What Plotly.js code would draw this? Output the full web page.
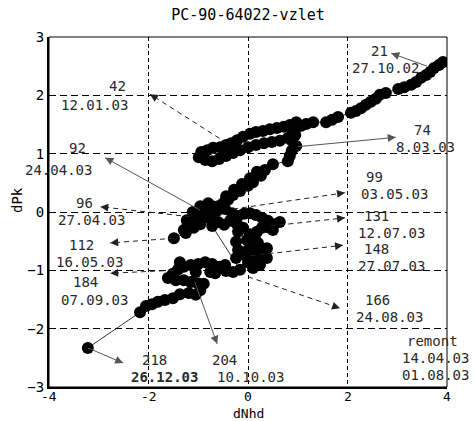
<!DOCTYPE html>
<html>
<head>
<meta charset="utf-8">
<script src="https://cdn.plot.ly/plotly-3.0.1.min.js"></script>
<style>html,body{margin:0;padding:0;background:#fff;}#chart{width:475px;height:421px;}</style>
</head>
<body>
<div id="chart"></div>
<script>
// trajectory of dNhd (x) vs dPk (y), in time order
const dNhd = [
  3.92,3.84,3.74,3.66,3.58,3.48,3.38,3.28,3.14,3.02,2.77,2.65,2.57,2.47,2.37,2.27,2.17,2.07,1.81,1.69,1.57,1.31,1.17,1.07,
  0.97,0.84,0.72,0.58,0.44,0.30,0.16,0.04,-0.10,-0.22,-0.34,-0.44,-0.56,-0.70,-0.82,-0.94,
  -0.99,
  -0.86,-0.72,-0.58,-0.44,-0.30,-0.16,0.00,0.16,0.32,0.48,0.64,0.80,0.90,1.03,
  0.95,0.88,0.97,0.88,0.84,0.80,0.50,
  0.34,0.18,0.26,0.10,0.04,0.00,-0.12,-0.16,-0.28,-0.30,-0.44,-0.40,-0.50,-0.60,
  -0.72,-0.80,-0.84,-0.96,-0.96,-1.11,-1.05,-1.23,-1.15,-1.21,-1.29,-1.49,-1.25,-1.09,-0.96,-0.86,-0.74,-0.62,-0.46,
  -0.32,-0.20,-0.08,0.04,0.16,0.28,0.40,0.64,0.52,0.50,0.40,0.28,0.18,0.14,0.20,0.38,0.24,0.20,0.38,0.14,0.24,0.10,
  0.00,-0.04,-0.24,-0.20,0.00,0.08,-0.24,-0.02,-0.20,0.04,-0.10,-0.22,-0.36,-0.48,-0.60,-0.72,
  -0.16,-0.30,-0.44,-0.46,-0.58,-0.66,-0.72,-0.76,-0.86,-1.00,-1.05,-1.15,-1.29,-1.37,-1.41,-1.51,-1.61,
  -1.45,-1.29,-1.15,-1.01,-0.89,-0.96,-1.05,-1.19,-1.37,-1.51,-1.67,-1.81,-1.93,-2.05,-2.17,-3.22];
const dPk = [
  2.57,2.52,2.47,2.40,2.35,2.30,2.23,2.18,2.14,2.11,2.04,2.01,1.94,1.89,1.84,1.78,1.73,1.70,1.63,1.58,1.54,1.54,1.51,1.48,
  1.54,1.49,1.46,1.44,1.42,1.39,1.37,1.34,1.29,1.23,1.18,1.15,1.11,1.10,1.06,1.03,
  0.94,
  0.89,0.87,0.91,0.96,1.01,1.06,1.11,1.15,1.18,1.20,1.22,1.27,1.37,1.48,
  1.32,1.22,1.13,1.05,0.96,0.87,0.82,
  0.72,0.69,0.62,0.51,0.58,0.45,0.48,0.36,0.38,0.29,0.27,0.21,0.15,0.10,
  0.10,0.15,0.05,0.10,0.00,0.00,-0.07,-0.14,-0.15,-0.24,-0.31,-0.45,-0.36,-0.27,-0.21,-0.10,-0.05,0.02,0.05,
  -0.02,-0.07,-0.03,-0.02,-0.05,-0.10,-0.15,-0.17,-0.21,-0.31,-0.26,-0.27,-0.34,-0.45,-0.53,-0.62,-0.62,-0.72,-0.79,-0.82,-0.91,-0.96,
  -0.86,-0.75,-0.79,-0.65,-0.65,-0.55,-0.51,-0.48,-0.34,-0.38,-0.27,-0.21,-0.15,-0.22,-0.17,-0.24,
  -0.99,-1.03,-1.01,-0.91,-0.94,-1.05,-0.89,-1.03,-0.86,-0.89,-1.03,-0.91,-0.94,-0.86,-0.99,-1.06,-1.13,
  -1.17,-1.17,-1.20,-1.22,-1.23,-1.34,-1.42,-1.39,-1.41,-1.48,-1.51,-1.54,-1.58,-1.61,-1.72,-2.33];

// x axis tick labels
const xTickVals = [-4, -2, 0, 2, 4];
const xTickText = ['-4', '-2', '0', '2', '4'];

// arrows: from a point of the trajectory (fromX, fromY) to its label (toX, toY)
const arrowNames = ['21','42','74','92','96','99','112','131','148','166','184','204','218'];
const arrowFromX = [3.60, -0.42, 1.00, -0.96, -1.17, -0.30, -1.49, 0.45, 0.05, 0.00, -1.51, -1.07, -3.22];
const arrowFromY = [2.50, 1.18, 1.12, 0.03, -0.08, 0.05, -0.45, -0.24, -0.75, -1.11, -1.00, -1.20, -2.33];
const arrowToX = [2.88, -1.97, 2.97, -2.87, -2.97, 1.95, -2.77, 1.95, 1.91, 1.85, -2.77, -0.62, -2.51];
const arrowToY = [2.72, 2.02, 1.28, 0.93, 0.09, 0.33, -0.53, -0.10, -0.57, -1.65, -1.05, -2.26, -2.59];
const arrowDashed = [false, true, false, false, true, true, true, true, true, true, true, false, false];

// text labels (point number / date)
const labelTexts = ['21','27.10.02','42','12.01.03','92','24.04.03','96','27.04.03','112','16.05.03',
  '184','07.09.03','218','<b>26.12.03</b>','204','10.10.03','74','8.03.03','99','03.05.03',
  '131','12.07.03','148','27.07.03','166','24.08.03','remont','14.04.03','01.08.03'];
const labelX = [2.65,2.77,-2.63,-3.08,-3.42,-3.80,-3.28,-3.14,-3.34,-3.18,
  -3.26,-3.08,-1.87,-1.67,-0.48,0.06,3.50,3.56,2.55,2.95,
  2.59,2.89,2.59,2.89,2.61,2.85,3.70,3.76,3.76];
const labelY = [2.76,2.47,2.16,1.84,1.10,0.72,0.15,-0.14,-0.57,-0.86,
  -1.20,-1.51,-2.54,-2.83,-2.54,-2.83,1.40,1.11,0.60,0.31,
  -0.07,-0.36,-0.63,-0.93,-1.51,-1.80,-2.21,-2.50,-2.79];

const W = 475, H = 421;
const M = {l: 49, r: 28, t: 37, b: 34};
const xRange = [-4, 4], yRange = [-3, 3];
const PW = W - M.l - M.r, PH = H - M.t - M.b;
const sx = PW / (xRange[1] - xRange[0]);
const sy = PH / (yRange[1] - yRange[0]);
const FONT = 'DejaVu Sans Mono';

const shapes = [];
const annotations = [];
for (let i = 0; i < arrowNames.length; i++) {
  const col = arrowDashed[i] ? '#222' : '#555';
  shapes.push({type: 'line', xref: 'x', yref: 'y',
    x0: arrowFromX[i], y0: arrowFromY[i], x1: arrowToX[i], y1: arrowToY[i],
    line: {color: col, width: 1, dash: arrowDashed[i] ? '5px,4px' : 'solid'}});
  const dxp = (arrowToX[i] - arrowFromX[i]) * sx;
  const dyp = -(arrowToY[i] - arrowFromY[i]) * sy;
  const len = Math.hypot(dxp, dyp);
  const L = 9;
  annotations.push({x: arrowToX[i], y: arrowToY[i], xref: 'x', yref: 'y', text: '',
    showarrow: true, arrowhead: 2, arrowsize: 1.6, arrowwidth: 1, arrowcolor: col,
    ax: -dxp / len * L, ay: -dyp / len * L});
}
shapes.push({type: 'rect', xref: 'paper', yref: 'paper', x0: 0, x1: 1, y0: 0, y1: 1,
  line: {color: '#000', width: 1}, layer: 'above'});

for (let i = 0; i < labelTexts.length; i++) {
  annotations.push({x: labelX[i], y: labelY[i], xref: 'x', yref: 'y', text: labelTexts[i],
    showarrow: false, xanchor: 'center', yanchor: 'middle',
    font: {family: FONT, size: 14, color: '#2a2a2a'}});
}
// x tick labels
for (let i = 0; i < xTickVals.length; i++) {
  annotations.push({x: xTickVals[i], xref: 'x', y: -(396 - (H - M.b)) / PH, yref: 'paper',
    text: xTickText[i], showarrow: false, xanchor: 'center', yanchor: 'middle',
    font: {family: FONT, size: 13, color: '#000'}});
}
// axis titles
annotations.push({text: 'dNhd', xref: 'paper', yref: 'paper', x: 0.5, y: -(413 - (H - M.b)) / PH,
  xanchor: 'center', yanchor: 'middle', showarrow: false, font: {family: FONT, size: 13, color: '#000'}});
annotations.push({text: 'dPk', xref: 'paper', yref: 'paper', x: -(M.l - 17) / PW, y: ((H - M.b) - 200) / PH,
  xanchor: 'center', yanchor: 'middle', textangle: -90, showarrow: false,
  font: {family: FONT, size: 14, color: '#000'}});

const trace = {
  x: dNhd, y: dPk, type: 'scatter', mode: 'lines+markers',
  line: {color: '#333', width: 1},
  marker: {color: '#000', size: 12, line: {width: 0}},
  hoverinfo: 'skip'
};

const layout = {
  width: W, height: H,
  margin: M,
  paper_bgcolor: '#fff', plot_bgcolor: '#fff',
  showlegend: false,
  title: {text: 'PC-90-64022-vzlet', font: {family: FONT, size: 15, color: '#000'},
    x: 0.5, xref: 'paper', y: 1 - 15 / H, yref: 'container', yanchor: 'middle'},
  xaxis: {range: xRange, tickvals: xTickVals, showticklabels: false, showgrid: true, gridcolor: '#000', gridwidth: 1,
    griddash: '4px,3px', zeroline: false, showline: true, linecolor: '#000', linewidth: 2, ticks: ''},
  yaxis: {range: yRange, dtick: 1, showgrid: true, gridcolor: '#000', gridwidth: 1,
    griddash: '7px,4px', zeroline: false, showline: true, linecolor: '#000', linewidth: 2,
    ticks: '', tickfont: {family: FONT, size: 14, color: '#000'}},
  shapes: shapes,
  annotations: annotations
};

Plotly.newPlot('chart', [trace], layout, {staticPlot: true, displayModeBar: false});
</script>
</body>
</html>
